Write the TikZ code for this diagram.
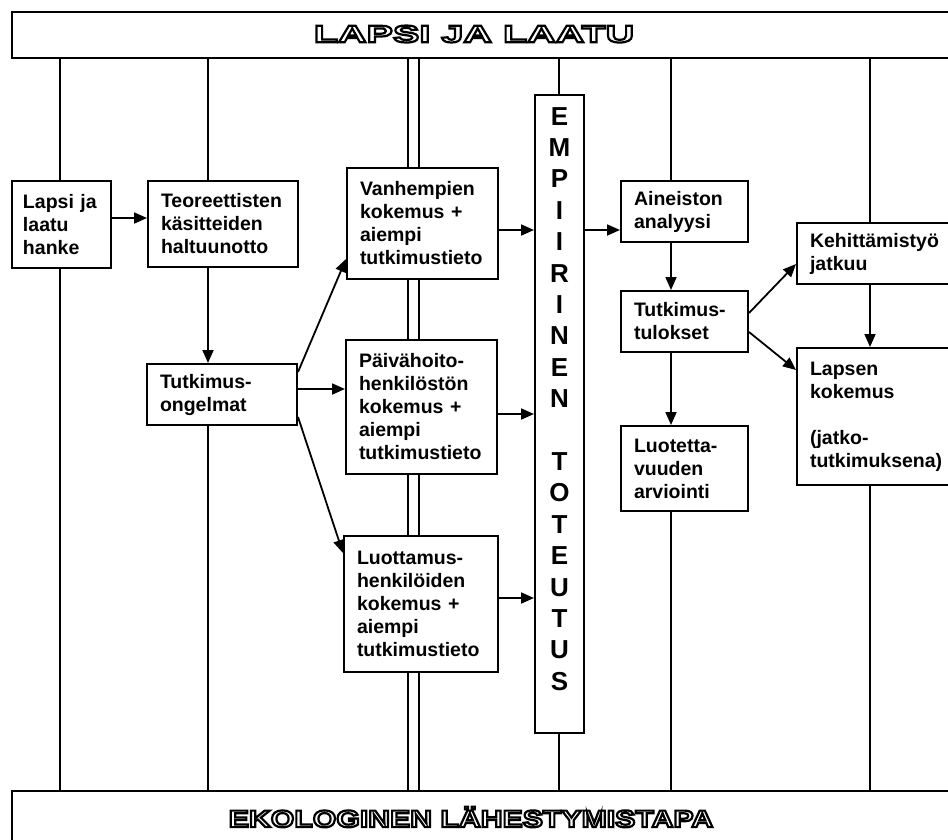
\documentclass[tikz,border=0pt]{standalone}
\usepackage{fontspec}
\setmainfont{Liberation Sans}
\newfontfamily\topbarfont{Liberation Sans Bold}[FakeStretch=1.65]
\newfontfamily\botbarfont{Liberation Sans Bold}[FakeStretch=1.26]
\usepackage{tikz}
\usetikzlibrary{arrows.meta}
\usetikzlibrary{positioning}

% hollow letters of the banners
\newcommand\hollow[1]{\special{pdf:literal direct 1 Tr 2.2 w}#1\special{pdf:literal direct 0 Tr}}

\tikzset{
  box/.style={draw, line width=2pt, anchor=north west, align=left, inner xsep=13pt, inner ysep=0pt, font=\bfseries\fontsize{19.5}{23}\selectfont},
  banner/.style={draw, line width=2pt, anchor=north west, inner sep=0pt},
  bg/.style={line width=1.8pt},
  arr/.style={line width=1.8pt, -{Triangle[length=13pt,width=11pt]}},
}

\begin{document}
\begin{tikzpicture}[x=1pt,y=-1pt]
\useasboundingbox (0,0) rectangle (948,839);
\clip (0,0) rectangle (948,839);
% columns of the background
\coordinate (c1) at (60,0);
\coordinate (c2) at (208,0);
\coordinate (c3) at (408,0);
\coordinate (c4) at (419,0);
\coordinate (c5) at (559,0);
\coordinate (c6) at (671,0);
\coordinate (c7) at (870,0);
% draws banners
\node (topbar) [banner, minimum width=949pt, minimum height=46pt] at (11,11) {};
\node (botbar) [banner, minimum width=949pt, minimum height=60pt] at (11,790) {};
\node (toptext) at (474,34) {\topbarfont\fontsize{24}{24}\selectfont\hollow{LAPSI JA LAATU}};
\node (bottext) at (471,817) {\botbarfont\fontsize{24}{24}\selectfont\hollow{EKOLOGINEN LÄHESTYMISTAPA}};
% draws boxes
\node (lapsi) [box, inner xsep=11pt, text width=77pt, minimum height=87pt] at (11,180) {Lapsi ja\\laatu\\hanke};
\node (teor) [box, text width=124pt, minimum height=86pt] at (147,180) {Teoreettisten\\käsitteiden\\haltuunotto};
\node (ongel) [box, text width=124pt, minimum height=61pt] at (146,363) {Tutkimus-\\ongelmat};
\node (vanh) [box, text width=125pt, minimum height=111pt] at (346,167) {Vanhempien\\kokemus +\\aiempi\\tutkimustieto};
\node (paiv) [box, text width=125pt, minimum height=134pt] at (345,339) {Päivähoito-\\henkilöstön\\kokemus +\\aiempi\\tutkimustieto};
\node (luott) [box, text width=128pt, minimum height=136pt] at (343,535) {Luottamus-\\henkilöiden\\kokemus +\\aiempi\\tutkimustieto};
\node (empi) [box, inner xsep=0pt, minimum width=49pt, minimum height=638pt] at (534,94) {};
\node (empitext) [below=13pt of empi.north, align=center, inner sep=0pt, font=\bfseries\fontsize{26}{31.4}\selectfont] {E\\M\\P\\I\\I\\R\\I\\N\\E\\N\\[31.4pt]T\\O\\T\\E\\U\\T\\U\\S};
\node (aineisto) [box, text width=101pt, minimum height=61pt] at (620,180) {Aineiston\\analyysi};
\node (tulokset) [box, text width=101pt, minimum height=61pt] at (620,290) {Tutkimus-\\tulokset};
\node (luotet) [box, text width=101pt, minimum height=85pt] at (620,425) {Luotetta-\\vuuden\\arviointi};
\node (kehit) [box, text width=138pt, minimum height=61pt] at (796,222) {Kehittämistyö\\jatkuu};
\node (lapsen) [box, text width=138pt, minimum height=137pt] at (796,347) {Lapsen\\kokemus\\[23pt](jatko-\\tutkimuksena)};
% draws background lines
\draw[bg] (topbar.south -| c1) -- (lapsi.north -| c1);
\draw[bg] (lapsi.south -| c1) -- (botbar.north -| c1);
\draw[bg] (topbar.south -| c2) -- (teor.north -| c2);
\draw[bg] (ongel.south -| c2) -- (botbar.north -| c2);
\foreach \c in {c3,c4} {
  \draw[bg, line width=1.5pt] (topbar.south -| \c) -- (vanh.north -| \c);
  \draw[bg, line width=1.5pt] (vanh.south -| \c) -- (paiv.north -| \c);
  \draw[bg, line width=1.5pt] (paiv.south -| \c) -- (luott.north -| \c);
  \draw[bg, line width=1.5pt] (luott.south -| \c) -- (botbar.north -| \c);
}
\draw[bg] (topbar.south -| c5) -- (empi.north -| c5);
\draw[bg] (empi.south -| c5) -- (botbar.north -| c5);
\draw[bg] (topbar.south -| c6) -- (aineisto.north -| c6);
\draw[bg] (luotet.south -| c6) -- (botbar.north -| c6);
\draw[bg] (topbar.south -| c7) -- (kehit.north -| c7);
\draw[bg] (lapsen.south -| c7) -- (botbar.north -| c7);
% draws arrows
\draw[arr] ([yshift=6.5pt]lapsi.east) -- ([yshift=6.5pt]lapsi.east -| teor.west);
\draw[arr] (teor.south -| c2) -- (ongel.north -| c2);
\draw[arr] ([yshift=-9pt]ongel.north east) -- ([yshift=21pt]vanh.south west);
\draw[arr] ([yshift=5.5pt]ongel.east) -- ([yshift=5.5pt]ongel.east -| paiv.west);
\draw[arr] ([yshift=9pt]ongel.south east) -- ([yshift=-18pt]luott.north west);
\draw[arr] ([yshift=-6.5pt]vanh.east) -- ([yshift=-6.5pt]vanh.east -| empi.west);
\draw[arr] ([yshift=-7pt]paiv.east) -- ([yshift=-7pt]paiv.east -| empi.west);
\draw[arr] ([yshift=6pt]luott.east) -- ([yshift=6pt]luott.east -| empi.west);
\draw[arr] ([yshift=-18.5pt]aineisto.west -| empi.east) -- ([yshift=-18.5pt]aineisto.west);
\draw[arr] (aineisto.south -| c6) -- (tulokset.north -| c6);
\draw[arr] (tulokset.south -| c6) -- (luotet.north -| c6);
\draw[arr] ([yshift=-23pt]tulokset.north east) -- ([yshift=21pt]kehit.south west);
\draw[arr] ([yshift=21pt]tulokset.south east) -- ([yshift=-23pt]lapsen.north west);
\draw[arr] (kehit.south -| c7) -- (lapsen.north -| c7);
\end{tikzpicture}
\end{document}
